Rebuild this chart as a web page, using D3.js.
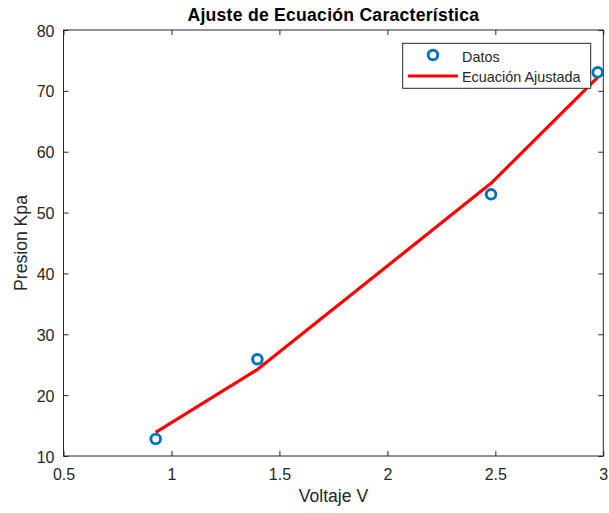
<!DOCTYPE html>
<html><head><meta charset="utf-8">
<script src="https://cdn.jsdelivr.net/npm/d3@7"></script>
<style>
body{margin:0;background:#fff;}
text{font-family:"Liberation Sans",Arial,sans-serif;}
</style></head>
<body>
<svg id="c" width="609" height="513"></svg>
<script>
const voltaje = [0.927, 1.398, 2.48, 2.974];
const presion = [12.8, 25.9, 53.0, 73.05];
const ajuste = [13.9, 24.2, 54.8, 72.2];
const xTicks = [0.5, 1, 1.5, 2, 2.5, 3];
const yTicks = [10, 20, 30, 40, 50, 60, 70, 80];
const titulo = "Ajuste de Ecuación Característica";
const xLabel = "Voltaje V";
const yLabel = "Presion Kpa";
const leyenda = ["Datos", "Ecuación Ajustada"];

const svg = d3.select("#c");
const L = 63.5, R = 603.3, T = 30, B = 456;
const x = d3.scaleLinear().domain([0.5, 3]).range([L, R]);
const y = d3.scaleLinear().domain([10, 80]).range([B, T]);
const ax = "#262626";
const FF = '"Liberation Sans",Arial,sans-serif';

// box
svg.append("rect").attr("x", L).attr("y", T).attr("width", R - L).attr("height", B - T)
  .attr("fill", "none").attr("stroke", ax).attr("stroke-width", 1);

const tl = 5;
const fmt = d => String(d);
const gx = svg.append("g").attr("transform", `translate(0,${B})`)
  .call(d3.axisBottom(x).tickValues(xTicks).tickFormat(fmt).tickSizeInner(-tl).tickSizeOuter(0).tickPadding(13));
const gxt = svg.append("g").attr("transform", `translate(0,${T})`)
  .call(d3.axisTop(x).tickValues(xTicks).tickFormat("").tickSizeInner(-tl).tickSizeOuter(0));
const gy = svg.append("g").attr("transform", `translate(${L},0)`)
  .call(d3.axisLeft(y).tickValues(yTicks).tickFormat(fmt).tickSizeInner(-tl).tickSizeOuter(0).tickPadding(9));
const gyr = svg.append("g").attr("transform", `translate(${R},0)`)
  .call(d3.axisRight(y).tickValues(yTicks).tickFormat("").tickSizeInner(-tl).tickSizeOuter(0));
[gx, gxt, gy, gyr].forEach(g => {
  g.select(".domain").remove();
  g.selectAll("line").attr("stroke", ax);
  g.selectAll("text").attr("fill", ax).style("font-size", "16px").style("font-family", FF);
});
gy.selectAll("text").attr("dy", "0.38em");

// line
const line = d3.line().x((d, i) => x(voltaje[i])).y(d => y(d));
svg.append("path").datum(ajuste).attr("d", line).attr("fill", "none")
  .attr("stroke", "#ff0000").attr("stroke-width", 3.2).attr("stroke-linejoin", "round");

// points
svg.selectAll("circle.pt").data(presion).enter().append("circle").attr("class", "pt")
  .attr("cx", (d, i) => x(voltaje[i])).attr("cy", d => y(d)).attr("r", 4.8)
  .attr("fill", "none").attr("stroke", "#0072bd").attr("stroke-width", 2.9);

// title & labels
svg.append("text").attr("x", (L + R) / 2).attr("y", 21).attr("text-anchor", "middle")
  .attr("font-weight", "bold").attr("font-size", "17.6px").attr("letter-spacing", "0.25px")
  .attr("fill", "#000").text(titulo);
svg.append("text").attr("x", (L + R) / 2).attr("y", 502).attr("text-anchor", "middle")
  .attr("font-size", "17.6px").attr("fill", ax).text(xLabel);
svg.append("text").attr("transform", `translate(26.5,${(T + B) / 2}) rotate(-90)`).attr("text-anchor", "middle")
  .attr("font-size", "17.6px").attr("fill", ax).text(yLabel);

// legend
const lg = svg.append("g");
lg.append("rect").attr("x", 402.7).attr("y", 43.3).attr("width", 188).attr("height", 45)
  .attr("fill", "#fff").attr("stroke", ax).attr("stroke-width", 1);
lg.append("circle").attr("cx", 433).attr("cy", 55).attr("r", 4.8)
  .attr("fill", "none").attr("stroke", "#0072bd").attr("stroke-width", 2.9);
lg.append("line").attr("x1", 408).attr("x2", 458).attr("y1", 76).attr("y2", 76)
  .attr("stroke", "#ff0000").attr("stroke-width", 3.2);
lg.selectAll("text.lt").data(leyenda).enter().append("text").attr("class", "lt")
  .attr("x", 462).attr("y", (d, i) => 61.5 + i * 20.8).attr("font-size", "14.4px").attr("fill", ax).text(d => d);
</script>
</body></html>
